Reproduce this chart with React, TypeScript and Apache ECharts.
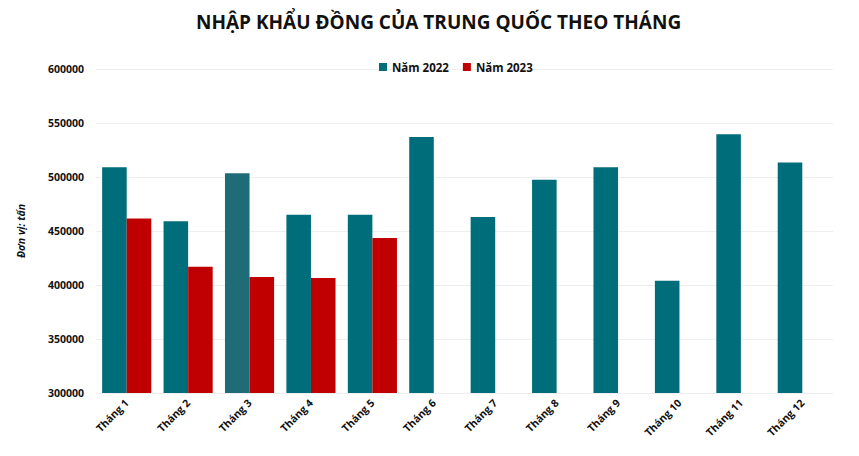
import { useEffect, useRef } from 'react'
import * as echarts from 'echarts'

const months = [
  'Tháng 1', 'Tháng 2', 'Tháng 3', 'Tháng 4', 'Tháng 5', 'Tháng 6',
  'Tháng 7', 'Tháng 8', 'Tháng 9', 'Tháng 10', 'Tháng 11', 'Tháng 12',
]
const imports2022 = [509000, 459000, 503500, 465000, 465000, 537000, 463000, 497500, 509000, 404000, 539500, 513500]
const imports2023 = [461500, 417000, 407500, 406500, 443500, null, null, null, null, null, null, null]

const FONT = '"Open Sans", "Noto Sans", sans-serif'
const TEAL = '#006d7a'
const TEAL_ALT = '#1f6b78'
const RED = '#c00000'

export default function App() {
  const chartRef = useRef<HTMLDivElement>(null)

  useEffect(() => {
    document.body.style.margin = '0'
    if (!chartRef.current) return

    const chart = echarts.init(chartRef.current, undefined, { renderer: 'svg' })

    chart.setOption({
      animation: false,
      textStyle: { fontFamily: FONT },
      title: {
        text: 'NHẬP KHẨU ĐỒNG CỦA TRUNG QUỐC THEO THÁNG',
        left: 191,
        top: 7,
        textStyle: { fontFamily: FONT, fontSize: 19, fontWeight: 'bold', color: '#111' },
      },
      legend: {
        top: 56,
        left: 374,
        itemWidth: 8,
        itemHeight: 8,
        itemGap: 14,
        icon: 'rect',
        textStyle: { fontFamily: FONT, fontSize: 11.5, fontWeight: 'bold', color: '#111' },
        data: ['Năm 2022', 'Năm 2023'],
      },
      grid: { left: 96, right: 26, top: 69, bottom: 63 },
      xAxis: {
        type: 'category',
        data: months,
        axisLine: { show: false },
        axisTick: { show: false },
        axisLabel: {
          rotate: 45,
          interval: 0,
          margin: 8,
          fontFamily: FONT,
          fontSize: 10.5,
          fontWeight: 'bold',
          color: '#111',
        },
      },
      yAxis: {
        type: 'value',
        min: 300000,
        max: 600000,
        interval: 50000,
        name: 'Đơn vị: tấn',
        nameLocation: 'middle',
        nameGap: 70,
        nameTextStyle: { fontFamily: FONT, fontSize: 10.5, fontWeight: 'bold', fontStyle: 'italic', color: '#111' },
        axisLabel: {
          fontFamily: FONT,
          fontSize: 10.5,
          fontWeight: 'bold',
          color: '#111',
          margin: 12,
          formatter: (v: number) => String(v),
        },
        splitLine: { lineStyle: { color: '#eeeeee' } },
      },
      series: [
        {
          name: 'Năm 2022',
          type: 'bar',
          barWidth: '40%',
          barGap: '0%',
          itemStyle: { color: TEAL },
          data: imports2022.map((v, i) => (i === 2 ? { value: v, itemStyle: { color: TEAL_ALT } } : v)),
        },
        {
          name: 'Năm 2023',
          type: 'bar',
          barWidth: '40%',
          itemStyle: { color: RED },
          data: imports2023,
        },
      ],
    })

    return () => {
      chart.dispose()
    }
  }, [])

  return <div ref={chartRef} style={{ width: '859px', height: '456px' }} />
}
